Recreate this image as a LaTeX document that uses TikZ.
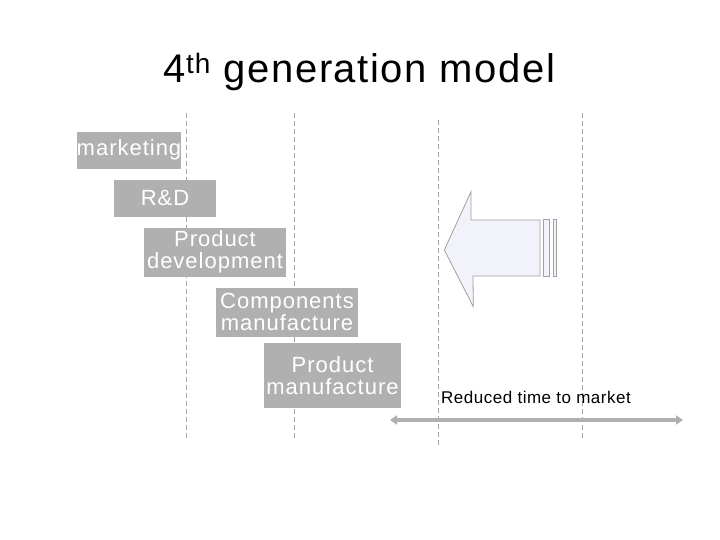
\documentclass[tikz,border=0pt]{standalone}
\usepackage{fontspec}
\setmainfont{Liberation Sans}
\usetikzlibrary{arrows.meta}
\definecolor{boxgray}{HTML}{B0B0B0}
\definecolor{dashgray}{HTML}{A8A8A8}
\definecolor{arrowfill}{HTML}{F2F2FA}
\definecolor{arrowline}{HTML}{A0A0A0}
\tikzset{
  stagebox/.style={fill=boxgray, draw=none, inner sep=0pt, text=white, align=center,
    font=\fontsize{22}{22}\selectfont\addfontfeature{LetterSpace=4.5}},
  divider/.style={draw=dashgray, line width=0.8pt, dash pattern=on 5pt off 3pt},
  blockarrow/.style={fill=arrowfill, draw=arrowline, line width=0.8pt},
  timeline/.style={draw=boxgray, line width=4pt, {Triangle[length=7pt,width=9pt]}-{Triangle[length=7pt,width=9pt]}}
}
\begin{document}
\begin{tikzpicture}[x=1pt,y=-1pt]
\useasboundingbox (0,0) rectangle (720,540);
% dashed dividers
\coordinate (d1t) at (186,113); \coordinate (d1b) at (186,438);
\coordinate (d2t) at (294,113); \coordinate (d2b) at (294,438);
\coordinate (d3t) at (438,120); \coordinate (d3b) at (438,445);
\coordinate (d4t) at (582,113); \coordinate (d4b) at (582,438);
\draw[divider] (d1t) -- (d1b);
\draw[divider] (d2t) -- (d2b);
\draw[divider] (d3t) -- (d3b);
\draw[divider] (d4t) -- (d4b);
% title
\node[anchor=base, inner sep=0pt, font=\fontsize{40}{44}\selectfont\addfontfeature{LetterSpace=4}] (title) at (359.5,83) {4\textsuperscript{th} generation model};
% stage boxes
\node[stagebox, minimum width=102pt, minimum height=36.7pt] (mkt) at (129,150.3) {marketing};
\node[stagebox, minimum width=102pt, minimum height=36.7pt] (rd) at (165,198.3) {R\&D};
\node[stagebox, minimum width=142pt, minimum height=48.7pt] (pd) at (215,252.3) {Product\\development};
\node[stagebox, minimum width=142pt, minimum height=48.7pt] (cm) at (287,312.3) {Components\\manufacture};
\node[stagebox, minimum width=137pt, minimum height=65.3pt] (pm) at (332.5,375.3) {Product\\manufacture};
% block arrow
\draw[blockarrow] (444.3,250) -- (471,191.7) -- (471,220) -- (540,220) -- (540,276) -- (473,276) -- (473.3,306.7) -- cycle;
\draw[blockarrow] (543.3,219.5) rectangle (549,276);
\draw[blockarrow] (553.3,219.5) rectangle (556.7,276);
% timeline
\coordinate (tl) at (390,420);
\coordinate (tr) at (683,420);
\draw[timeline] (tl) -- (tr);
\node[anchor=base west, inner sep=0pt, font=\fontsize{17}{19}\selectfont\addfontfeature{LetterSpace=3}] (lbl) at (441,403) {Reduced time to market};
\end{tikzpicture}
\end{document}
